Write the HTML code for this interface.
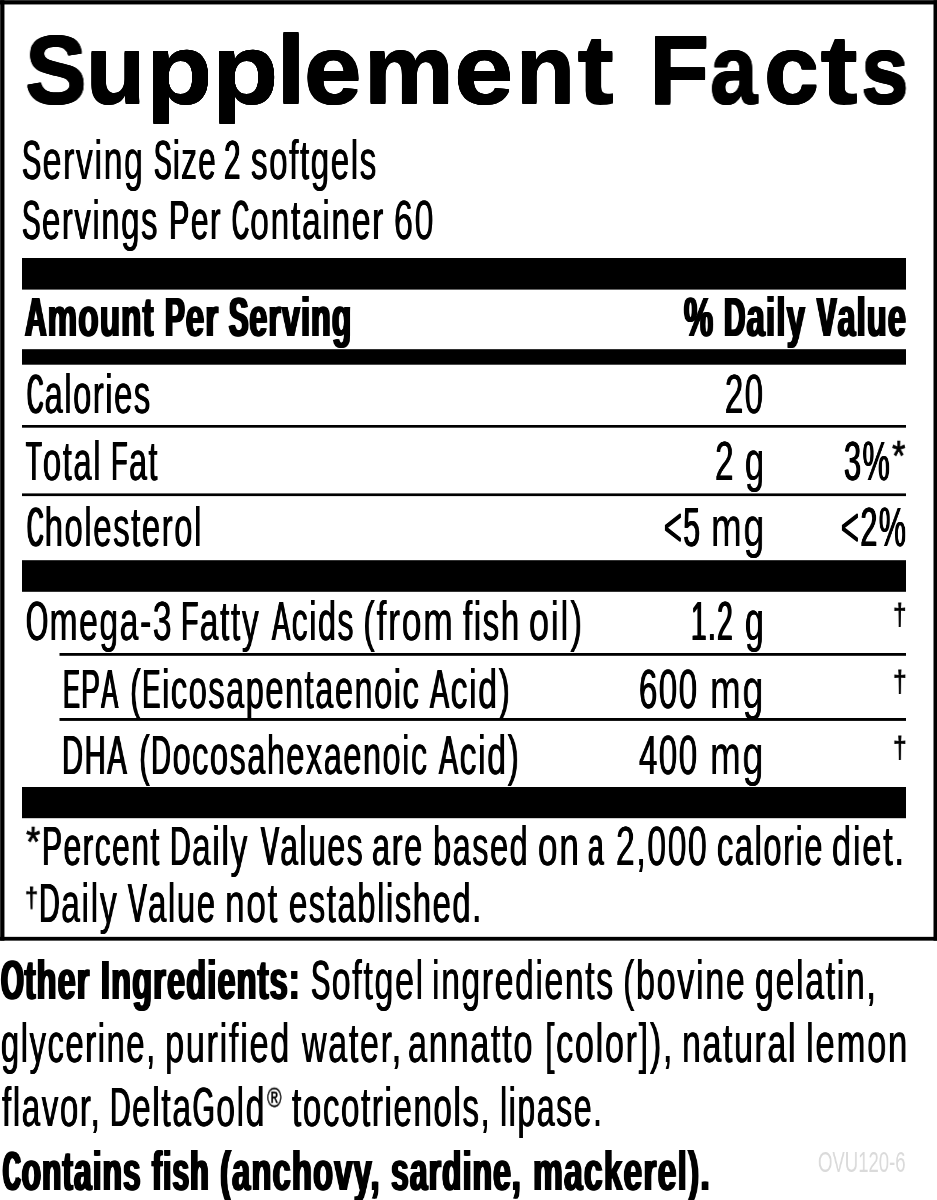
<!DOCTYPE html>
<html lang="en"><head><meta charset="utf-8"><title>Supplement Facts</title>
<style>
html,body{margin:0;padding:0;background:#fff;}
body{width:937px;height:1200px;position:relative;overflow:hidden;font-family:"Liberation Sans",sans-serif;color:#000;}
svg#g{position:absolute;left:0;top:0;}
.l{position:absolute;left:0;width:937px;margin:0;white-space:nowrap;}
.l span,.x{position:absolute;top:0;white-space:nowrap;transform-origin:0 0;display:block;will-change:transform;}
.x{margin:0;padding:0;}
.l i{display:inline-block;font-style:normal;transform-origin:0 0;}
#ti{top:22.10px;height:96.6px;font-size:96.6px;line-height:96.6px;font-weight:700;}
#ti0{left:24.80px;transform:scaleX(0.9583);text-shadow:0.60px 0 0 #000,-0.60px 0 0 #000,0 0.6px 0 #000,0 -0.6px 0 #000,0.60px 0.6px 0 #000,-0.60px 0.6px 0 #000,0.60px -0.6px 0 #000,-0.60px -0.6px 0 #000}
#ti1{left:86.43px;transform:scaleX(1.0027);text-shadow:0.60px 0 0 #000,-0.60px 0 0 #000,0 0.6px 0 #000,0 -0.6px 0 #000,0.60px 0.6px 0 #000,-0.60px 0.6px 0 #000,0.60px -0.6px 0 #000,-0.60px -0.6px 0 #000}
#ti2{left:146.16px;transform:scaleX(1.1271);text-shadow:0.06px 0 0 #000,-0.06px 0 0 #000,0 0.6px 0 #000,0 -0.6px 0 #000,0.06px 0.6px 0 #000,-0.06px 0.6px 0 #000,0.06px -0.6px 0 #000,-0.06px -0.6px 0 #000}
#ti3{left:212.46px;transform:scaleX(1.1276);text-shadow:0.06px 0 0 #000,-0.06px 0 0 #000,0 0.6px 0 #000,0 -0.6px 0 #000,0.06px 0.6px 0 #000,-0.06px 0.6px 0 #000,0.06px -0.6px 0 #000,-0.06px -0.6px 0 #000}
#ti4{left:276.73px;transform:scaleX(1.0447);text-shadow:0.60px 0 0 #000,-0.60px 0 0 #000,0 0.6px 0 #000,0 -0.6px 0 #000,0.60px 0.6px 0 #000,-0.60px 0.6px 0 #000,0.60px -0.6px 0 #000,-0.60px -0.6px 0 #000}
#ti5{left:304.09px;transform:scaleX(1.0712);text-shadow:0.42px 0 0 #000,-0.42px 0 0 #000,0 0.6px 0 #000,0 -0.6px 0 #000,0.42px 0.6px 0 #000,-0.42px 0.6px 0 #000,0.42px -0.6px 0 #000,-0.42px -0.6px 0 #000}
#ti6{left:363.78px;transform:scaleX(1.0462);text-shadow:0.59px 0 0 #000,-0.59px 0 0 #000,0 0.6px 0 #000,0 -0.6px 0 #000,0.59px 0.6px 0 #000,-0.59px 0.6px 0 #000,0.59px -0.6px 0 #000,-0.59px -0.6px 0 #000}
#ti7{left:453.55px;transform:scaleX(1.1066);text-shadow:0.19px 0 0 #000,-0.19px 0 0 #000,0 0.6px 0 #000,0 -0.6px 0 #000,0.19px 0.6px 0 #000,-0.19px 0.6px 0 #000,0.19px -0.6px 0 #000,-0.19px -0.6px 0 #000}
#ti8{left:515.67px;transform:scaleX(0.9945);text-shadow:0.60px 0 0 #000,-0.60px 0 0 #000,0 0.6px 0 #000,0 -0.6px 0 #000,0.60px 0.6px 0 #000,-0.60px 0.6px 0 #000,0.60px -0.6px 0 #000,-0.60px -0.6px 0 #000}
#ti9{left:577.05px;transform:scaleX(1.1596);text-shadow:0 0.6px 0 #000,0 -0.6px 0 #000}
#ti10{left:648.67px;transform:scaleX(1.0215);text-shadow:0.60px 0 0 #000,-0.60px 0 0 #000,0 0.6px 0 #000,0 -0.6px 0 #000,0.60px 0.6px 0 #000,-0.60px 0.6px 0 #000,0.60px -0.6px 0 #000,-0.60px -0.6px 0 #000}
#ti11{left:709.71px;transform:scaleX(0.8841);text-shadow:0.60px 0 0 #000,-0.60px 0 0 #000,0 0.6px 0 #000,0 -0.6px 0 #000,0.60px 0.6px 0 #000,-0.60px 0.6px 0 #000,0.60px -0.6px 0 #000,-0.60px -0.6px 0 #000}
#ti12{left:763.98px;transform:scaleX(1.0246);text-shadow:0.60px 0 0 #000,-0.60px 0 0 #000,0 0.6px 0 #000,0 -0.6px 0 #000,0.60px 0.6px 0 #000,-0.60px 0.6px 0 #000,0.60px -0.6px 0 #000,-0.60px -0.6px 0 #000}
#ti13{left:820.49px;transform:scaleX(1.1879);text-shadow:0 0.6px 0 #000,0 -0.6px 0 #000}
#ti14{left:860.61px;transform:scaleX(0.8886);text-shadow:0.60px 0 0 #000,-0.60px 0 0 #000,0 0.6px 0 #000,0 -0.6px 0 #000,0.60px 0.6px 0 #000,-0.60px 0.6px 0 #000,0.60px -0.6px 0 #000,-0.60px -0.6px 0 #000}
#sa{top:131.80px;height:56.0px;font-size:56.0px;line-height:56.0px;font-weight:400;letter-spacing:0.05em;}
#sa0{left:22.04px;transform:scaleX(0.6022);text-shadow:0.57px 0 0 #000,-0.57px 0 0 #000}
#sa0 .rS{text-shadow:1.11px 0 0 #000,-1.11px 0 0 #000}
#sa1{left:153.71px;transform:scaleX(0.5532);text-shadow:0.84px 0 0 #000,-0.84px 0 0 #000}
#sa1 .rS{text-shadow:1.43px 0 0 #000,-1.43px 0 0 #000}
#sa2{left:224.46px;transform:scaleX(0.5287);text-shadow:1.00px 0 0 #000,-1.00px 0 0 #000}
#sa3{left:251.21px;transform:scaleX(0.5891);text-shadow:0.64px 0 0 #000,-0.64px 0 0 #000}
#sb{top:191.70px;height:56.0px;font-size:56.0px;line-height:56.0px;font-weight:400;letter-spacing:0.05em;}
#sb0{left:22.05px;transform:scaleX(0.5852);text-shadow:0.66px 0 0 #000,-0.66px 0 0 #000}
#sb0 .rS{text-shadow:1.22px 0 0 #000,-1.22px 0 0 #000}
#sb1{left:169.23px;transform:scaleX(0.5684);text-shadow:0.75px 0 0 #000,-0.75px 0 0 #000}
#sb1 .rP{text-shadow:0.93px 0 0 #000,-0.93px 0 0 #000}
#sb2{left:232.08px;transform:scaleX(0.6001);text-shadow:0.58px 0 0 #000,-0.58px 0 0 #000}
#sb2 .rC{text-shadow:1.90px 0 0 #000,-1.90px 0 0 #000}
#sb3{left:393.63px;transform:scaleX(0.6055);text-shadow:0.56px 0 0 #000,-0.56px 0 0 #000}
#ap{top:289.20px;height:56.0px;font-size:56.0px;line-height:56.0px;font-weight:700;letter-spacing:0.035em;}
#ap0{left:25.01px;transform:scaleX(0.5926);text-shadow:1.62px 0 0 #000,-1.62px 0 0 #000}
#ap0 .bA{text-shadow:2.24px 0 0 #000,-2.24px 0 0 #000}
#ap1{left:165.29px;transform:scaleX(0.5886);text-shadow:1.66px 0 0 #000,-1.66px 0 0 #000}
#ap1 .bP{text-shadow:2.28px 0 0 #000,-2.28px 0 0 #000}
#ap2{left:229.09px;transform:scaleX(0.5744);text-shadow:1.80px 0 0 #000,-1.80px 0 0 #000}
#ap2 .bS{text-shadow:2.43px 0 0 #000,-2.43px 0 0 #000}
#dv{top:289.20px;height:56.0px;font-size:56.0px;line-height:56.0px;font-weight:700;letter-spacing:0.035em;}
#dv0{left:684.22px;transform:scaleX(0.5851);text-shadow:1.69px 0 0 #000,-1.69px 0 0 #000}
#dv1{left:724.16px;transform:scaleX(0.5889);text-shadow:1.65px 0 0 #000,-1.65px 0 0 #000}
#dv1 .bD{text-shadow:2.28px 0 0 #000,-2.28px 0 0 #000}
#dv2{left:817.29px;transform:scaleX(0.5796);text-shadow:1.74px 0 0 #000,-1.74px 0 0 #000}
#dv2 .bV{text-shadow:2.38px 0 0 #000,-2.38px 0 0 #000}
#ca{top:365.50px;height:56.0px;font-size:56.0px;line-height:56.0px;font-weight:400;letter-spacing:0.05em;}
#ca0{left:26.55px;transform:scaleX(0.5807);text-shadow:0.69px 0 0 #000,-0.69px 0 0 #000}
#ca0 .rC{text-shadow:2.05px 0 0 #000,-2.05px 0 0 #000}
#ca1{left:725.45px;transform:scaleX(0.5832);text-shadow:0.67px 0 0 #000,-0.67px 0 0 #000}
#tf{top:432.50px;height:56.0px;font-size:56.0px;line-height:56.0px;font-weight:400;letter-spacing:0.05em;}
#tf0{left:25.99px;transform:scaleX(0.5842);text-shadow:0.67px 0 0 #000,-0.67px 0 0 #000}
#tf0 .rT{text-shadow:1.56px 0 0 #000,-1.56px 0 0 #000}
#tf1{left:111.07px;transform:scaleX(0.5726);text-shadow:0.73px 0 0 #000,-0.73px 0 0 #000}
#tf1 .rF{text-shadow:1.30px 0 0 #000,-1.30px 0 0 #000}
#tf2{left:715.43px;transform:scaleX(0.5961);text-shadow:0.60px 0 0 #000,-0.60px 0 0 #000}
#tf3{left:744.73px;transform:scaleX(0.6138);text-shadow:0.51px 0 0 #000,-0.51px 0 0 #000}
#tf4{left:843.81px;transform:scaleX(0.5465);text-shadow:0.89px 0 0 #000,-0.89px 0 0 #000}
#ch{top:499.00px;height:56.0px;font-size:56.0px;line-height:56.0px;font-weight:400;letter-spacing:0.05em;}
#ch0{left:26.55px;transform:scaleX(0.5846);text-shadow:0.66px 0 0 #000,-0.66px 0 0 #000}
#ch0 .rC{text-shadow:2.02px 0 0 #000,-2.02px 0 0 #000}
#ch1{left:663.50px;transform:scaleX(0.5404);text-shadow:0.92px 0 0 #000,-0.92px 0 0 #000}
#ch2{left:710.87px;transform:scaleX(0.6589);text-shadow:0.31px 0 0 #000,-0.31px 0 0 #000}
#ch3{left:841.18px;transform:scaleX(0.5449);text-shadow:0.90px 0 0 #000,-0.90px 0 0 #000}
#om{top:593.10px;height:56.0px;font-size:56.0px;line-height:56.0px;font-weight:400;letter-spacing:0.05em;}
#om0{left:25.78px;transform:scaleX(0.5980);text-shadow:0.59px 0 0 #000,-0.59px 0 0 #000}
#om0 .rO{text-shadow:1.14px 0 0 #000,-1.14px 0 0 #000}
#om1{left:181.17px;transform:scaleX(0.5968);text-shadow:0.60px 0 0 #000,-0.60px 0 0 #000}
#om1 .rF{text-shadow:1.15px 0 0 #000,-1.15px 0 0 #000}
#om2{left:271.56px;transform:scaleX(0.5737);text-shadow:0.72px 0 0 #000,-0.72px 0 0 #000}
#om2 .rA{text-shadow:1.29px 0 0 #000,-1.29px 0 0 #000}
#om3{left:362.96px;transform:scaleX(0.6318);text-shadow:0.43px 0 0 #000,-0.43px 0 0 #000}
#om4{left:463.39px;transform:scaleX(0.5877);text-shadow:0.65px 0 0 #000,-0.65px 0 0 #000}
#om5{left:528.96px;transform:scaleX(0.6409);text-shadow:0.39px 0 0 #000,-0.39px 0 0 #000}
#om6{left:690.93px;transform:scaleX(0.4999);text-shadow:1.20px 0 0 #000,-1.20px 0 0 #000}
#om7{left:744.56px;transform:scaleX(0.5997);text-shadow:0.59px 0 0 #000,-0.59px 0 0 #000}
#ep{top:660.50px;height:56.0px;font-size:56.0px;line-height:56.0px;font-weight:400;letter-spacing:0.05em;}
#ep0{left:62.59px;transform:scaleX(0.5312);text-shadow:0.98px 0 0 #000,-0.98px 0 0 #000}
#ep0 .rA,#ep0 .rE{text-shadow:1.60px 0 0 #000,-1.60px 0 0 #000}
#ep0 .rP{text-shadow:1.17px 0 0 #000,-1.17px 0 0 #000}
#ep1{left:130.14px;transform:scaleX(0.5781);text-shadow:0.70px 0 0 #000,-0.70px 0 0 #000}
#ep1 .rE{text-shadow:1.27px 0 0 #000,-1.27px 0 0 #000}
#ep2{left:429.78px;transform:scaleX(0.6020);text-shadow:0.57px 0 0 #000,-0.57px 0 0 #000}
#ep2 .rA{text-shadow:1.12px 0 0 #000,-1.12px 0 0 #000}
#ep3{left:639.15px;transform:scaleX(0.5854);text-shadow:0.66px 0 0 #000,-0.66px 0 0 #000}
#ep4{left:710.46px;transform:scaleX(0.6591);text-shadow:0.31px 0 0 #000,-0.31px 0 0 #000}
#dh{top:727.00px;height:56.0px;font-size:56.0px;line-height:56.0px;font-weight:400;letter-spacing:0.05em;}
#dh0{left:62.26px;transform:scaleX(0.6122);text-shadow:0.52px 0 0 #000,-0.52px 0 0 #000}
#dh0 .rA,#dh0 .rD,#dh0 .rH{text-shadow:1.06px 0 0 #000,-1.06px 0 0 #000}
#dh1{left:139.00px;transform:scaleX(0.5769);text-shadow:0.71px 0 0 #000,-0.71px 0 0 #000}
#dh1 .rD{text-shadow:1.27px 0 0 #000,-1.27px 0 0 #000}
#dh2{left:438.87px;transform:scaleX(0.6019);text-shadow:0.57px 0 0 #000,-0.57px 0 0 #000}
#dh2 .rA{text-shadow:1.12px 0 0 #000,-1.12px 0 0 #000}
#dh3{left:639.12px;transform:scaleX(0.5863);text-shadow:0.66px 0 0 #000,-0.66px 0 0 #000}
#dh4{left:710.46px;transform:scaleX(0.6591);text-shadow:0.31px 0 0 #000,-0.31px 0 0 #000}
#fa{top:817.90px;height:56.0px;font-size:56.0px;line-height:56.0px;font-weight:400;letter-spacing:0.05em;}
#fa0{left:41.55px;transform:scaleX(0.5643);text-shadow:0.78px 0 0 #000,-0.78px 0 0 #000}
#fa0 .rP{text-shadow:0.95px 0 0 #000,-0.95px 0 0 #000}
#fa1{left:170.34px;transform:scaleX(0.5988);text-shadow:0.59px 0 0 #000,-0.59px 0 0 #000}
#fa1 .rD{text-shadow:1.13px 0 0 #000,-1.13px 0 0 #000}
#fa2{left:261.20px;transform:scaleX(0.5666);text-shadow:0.76px 0 0 #000,-0.76px 0 0 #000}
#fa2 .rV{text-shadow:1.34px 0 0 #000,-1.34px 0 0 #000}
#fa3{left:372.37px;transform:scaleX(0.5799);text-shadow:0.69px 0 0 #000,-0.69px 0 0 #000}
#fa4{left:433.25px;transform:scaleX(0.5777);text-shadow:0.70px 0 0 #000,-0.70px 0 0 #000}
#fa5{left:537.67px;transform:scaleX(0.6283);text-shadow:0.44px 0 0 #000,-0.44px 0 0 #000}
#fa6{left:587.95px;transform:scaleX(0.5018);text-shadow:1.19px 0 0 #000,-1.19px 0 0 #000}
#fa7{left:615.73px;transform:scaleX(0.5995);text-shadow:0.59px 0 0 #000,-0.59px 0 0 #000}
#fa8{left:717.25px;transform:scaleX(0.5800);text-shadow:0.69px 0 0 #000,-0.69px 0 0 #000}
#fa9{left:832.33px;transform:scaleX(0.6153);text-shadow:0.51px 0 0 #000,-0.51px 0 0 #000}
#fb{top:875.10px;height:56.0px;font-size:56.0px;line-height:56.0px;font-weight:400;letter-spacing:0.05em;}
#fb0{left:39.04px;transform:scaleX(0.6020);text-shadow:0.57px 0 0 #000,-0.57px 0 0 #000}
#fb0 .rD{text-shadow:1.12px 0 0 #000,-1.12px 0 0 #000}
#fb1{left:128.32px;transform:scaleX(0.5864);text-shadow:0.65px 0 0 #000,-0.65px 0 0 #000}
#fb1 .rV{text-shadow:1.21px 0 0 #000,-1.21px 0 0 #000}
#fb2{left:224.57px;transform:scaleX(0.6277);text-shadow:0.45px 0 0 #000,-0.45px 0 0 #000}
#fb3{left:288.69px;transform:scaleX(0.5832);text-shadow:0.67px 0 0 #000,-0.67px 0 0 #000}
#oi{top:952.20px;height:56.0px;font-size:56.0px;line-height:56.0px;font-weight:700;letter-spacing:0.035em;}
#oi0{left:1.29px;transform:scaleX(0.5792);text-shadow:1.75px 0 0 #000,-1.75px 0 0 #000}
#oi0 .bO{text-shadow:2.38px 0 0 #000,-2.38px 0 0 #000}
#oi1{left:101.06px;transform:scaleX(0.5808);text-shadow:1.73px 0 0 #000,-1.73px 0 0 #000}
#oa{top:952.20px;height:56.0px;font-size:56.0px;line-height:56.0px;font-weight:400;letter-spacing:0.05em;}
#oa0{left:310.64px;transform:scaleX(0.6056);text-shadow:0.55px 0 0 #000,-0.55px 0 0 #000}
#oa0 .rS{text-shadow:1.09px 0 0 #000,-1.09px 0 0 #000}
#oa1{left:432.28px;transform:scaleX(0.5996);text-shadow:0.59px 0 0 #000,-0.59px 0 0 #000}
#oa2{left:622.64px;transform:scaleX(0.6076);text-shadow:0.54px 0 0 #000,-0.54px 0 0 #000}
#oa3{left:754.95px;transform:scaleX(0.6037);text-shadow:0.56px 0 0 #000,-0.56px 0 0 #000}
#ob{top:1015.30px;height:56.0px;font-size:56.0px;line-height:56.0px;font-weight:400;letter-spacing:0.05em;}
#ob0{left:0.68px;transform:scaleX(0.5820);text-shadow:0.68px 0 0 #000,-0.68px 0 0 #000}
#ob1{left:164.73px;transform:scaleX(0.6115);text-shadow:0.53px 0 0 #000,-0.53px 0 0 #000}
#ob2{left:302.13px;transform:scaleX(0.6068);text-shadow:0.55px 0 0 #000,-0.55px 0 0 #000}
#ob3{left:408.27px;transform:scaleX(0.6111);text-shadow:0.53px 0 0 #000,-0.53px 0 0 #000}
#ob4{left:545.13px;transform:scaleX(0.6094);text-shadow:0.54px 0 0 #000,-0.54px 0 0 #000}
#ob5{left:681.96px;transform:scaleX(0.6034);text-shadow:0.57px 0 0 #000,-0.57px 0 0 #000}
#ob6{left:805.70px;transform:scaleX(0.6190);text-shadow:0.49px 0 0 #000,-0.49px 0 0 #000}
#oc{top:1079.40px;height:56.0px;font-size:56.0px;line-height:56.0px;font-weight:400;letter-spacing:0.05em;}
#oc0{left:1.78px;transform:scaleX(0.5884);text-shadow:0.64px 0 0 #000,-0.64px 0 0 #000}
#oc1{left:109.64px;transform:scaleX(0.5982);text-shadow:0.59px 0 0 #000,-0.59px 0 0 #000}
#oc1 .rD,#oc1 .rG{text-shadow:1.14px 0 0 #000,-1.14px 0 0 #000}
#oc2{left:292.22px;transform:scaleX(0.5894);text-shadow:0.64px 0 0 #000,-0.64px 0 0 #000}
#oc3{left:499.52px;transform:scaleX(0.5706);text-shadow:0.74px 0 0 #000,-0.74px 0 0 #000}
#cf{top:1142.50px;height:56.0px;font-size:56.0px;line-height:56.0px;font-weight:700;letter-spacing:0.035em;}
#cf0{left:2.57px;transform:scaleX(0.5636);text-shadow:1.90px 0 0 #000,-1.90px 0 0 #000}
#cf0 .bC{text-shadow:3.00px 0 0 #000,-3.00px 0 0 #000}
#cf1{left:151.54px;transform:scaleX(0.5359);text-shadow:2.21px 0 0 #000,-2.21px 0 0 #000}
#cf2{left:220.37px;transform:scaleX(0.5847);text-shadow:1.69px 0 0 #000,-1.69px 0 0 #000}
#cf3{left:391.29px;transform:scaleX(0.5679);text-shadow:1.86px 0 0 #000,-1.86px 0 0 #000}
#cf4{left:532.59px;transform:scaleX(0.5997);text-shadow:1.55px 0 0 #000,-1.55px 0 0 #000}
#cd{top:1147.15px;height:30.3px;font-size:30.3px;line-height:30.3px;font-weight:400;color:#dadada;}
#cd0{left:818.25px;transform:scaleX(0.6119)}
#ast1{left:892.15px;top:433.72px;font-size:40px;line-height:40px;transform:scale(0.8626,1.0619);-webkit-text-stroke:0.7px #000}
#dg1{left:893.36px;top:599.77px;font-size:30px;line-height:30px;transform:scale(0.8017,1.0038);-webkit-text-stroke:0.9px #000}
#dg2{left:892.92px;top:667.05px;font-size:30px;line-height:30px;transform:scale(0.8186,1.0046);-webkit-text-stroke:0.9px #000}
#dg3{left:892.92px;top:733.43px;font-size:30px;line-height:30px;transform:scale(0.8189,1.0004);-webkit-text-stroke:0.9px #000}
#ast2{left:26.26px;top:819.74px;font-size:40px;line-height:40px;transform:scale(0.9164,1.0448);-webkit-text-stroke:0.7px #000}
#dg4{left:25.40px;top:883.80px;font-size:28px;line-height:28px;transform:scale(0.8350,0.9877);-webkit-text-stroke:0.9px #000}
#reg{left:266.89px;top:1084.35px;font-size:24px;line-height:24px;transform:scale(0.8249,1.1377);-webkit-text-stroke:0.4px #000}
.rA{width:34.13px;transform:scaleX(0.85)}
.rC{width:30.27px;transform:scaleX(0.7)}
.rD{width:36.76px;transform:scaleX(0.85)}
.rE{width:34.13px;transform:scaleX(0.85)}
.rF{width:31.46px;transform:scaleX(0.85)}
.rG{width:39.40px;transform:scaleX(0.85)}
.rH{width:36.76px;transform:scaleX(0.85)}
.rO{width:39.40px;transform:scaleX(0.85)}
.rP{width:38.14px;transform:scaleX(0.95)}
.rS{width:34.13px;transform:scaleX(0.85)}
.rT{width:28.87px;transform:scaleX(0.78)}
.rV{width:34.13px;transform:scaleX(0.85)}
.bA{width:38.16px;transform:scaleX(0.9)}
.bC{width:33.07px;transform:scaleX(0.78)}
.bD{width:38.16px;transform:scaleX(0.9)}
.bO{width:40.97px;transform:scaleX(0.9)}
.bP{width:35.38px;transform:scaleX(0.9)}
.bS{width:35.38px;transform:scaleX(0.9)}
.bV{width:35.38px;transform:scaleX(0.9)}

</style></head><body>
<svg id="g" width="937" height="1200" viewBox="0 0 937 1200" fill="#000"><rect x="0" y="0.2" width="937" height="4.25"/><rect x="0.2" y="0.2" width="4.25" height="940.45"/><rect x="933.5" y="0.2" width="3.5" height="940.45"/><rect x="0" y="936.85" width="937" height="3.8"/><rect x="22" y="258" width="884" height="31.6"/><rect x="22" y="349.2" width="884" height="15.5"/><rect x="22" y="425" width="884" height="2.7"/><rect x="22" y="493.4" width="884" height="2.7"/><rect x="22" y="560.2" width="884" height="31.6"/><rect x="59.5" y="653" width="846.5" height="2.8"/><rect x="59.5" y="718" width="846.5" height="2.9"/><rect x="22" y="787" width="884" height="31.2"/></svg>
<div class="l" id="ti"><span id="ti0">S</span><span id="ti1">u</span><span id="ti2">p</span><span id="ti3">p</span><span id="ti4">l</span><span id="ti5">e</span><span id="ti6">m</span><span id="ti7">e</span><span id="ti8">n</span><span id="ti9">t</span> <span id="ti10">F</span><span id="ti11">a</span><span id="ti12">c</span><span id="ti13">t</span><span id="ti14">s</span></div>
<div class="l" id="sa"><span id="sa0"><i class="rS">S</i>erving</span> <span id="sa1"><i class="rS">S</i>ize</span> <span id="sa2">2</span> <span id="sa3">softgels</span></div>
<div class="l" id="sb"><span id="sb0"><i class="rS">S</i>ervings</span> <span id="sb1"><i class="rP">P</i>er</span> <span id="sb2"><i class="rC">C</i>ontainer</span> <span id="sb3">60</span></div>
<div class="l" id="ap"><span id="ap0"><i class="bA">A</i>mount</span> <span id="ap1"><i class="bP">P</i>er</span> <span id="ap2"><i class="bS">S</i>erving</span></div>
<div class="l" id="dv"><span id="dv0">%</span> <span id="dv1"><i class="bD">D</i>aily</span> <span id="dv2"><i class="bV">V</i>alue</span></div>
<div class="l" id="ca"><span id="ca0"><i class="rC">C</i>alories</span> <span id="ca1">20</span></div>
<div class="l" id="tf"><span id="tf0"><i class="rT">T</i>otal</span> <span id="tf1"><i class="rF">F</i>at</span> <span id="tf2">2</span> <span id="tf3">g</span> <span id="tf4">3%</span></div>
<div class="l" id="ch"><span id="ch0"><i class="rC">C</i>holesterol</span> <span id="ch1">&lt;5</span> <span id="ch2">mg</span> <span id="ch3">&lt;2%</span></div>
<div class="l" id="om"><span id="om0"><i class="rO">O</i>mega-3</span> <span id="om1"><i class="rF">F</i>atty</span> <span id="om2"><i class="rA">A</i>cids</span> <span id="om3">(from</span> <span id="om4">fish</span> <span id="om5">oil)</span> <span id="om6">1.2</span> <span id="om7">g</span></div>
<div class="l" id="ep"><span id="ep0"><i class="rE">E</i><i class="rP">P</i><i class="rA">A</i></span> <span id="ep1">(<i class="rE">E</i>icosapentaenoic</span> <span id="ep2"><i class="rA">A</i>cid)</span> <span id="ep3">600</span> <span id="ep4">mg</span></div>
<div class="l" id="dh"><span id="dh0"><i class="rD">D</i><i class="rH">H</i><i class="rA">A</i></span> <span id="dh1">(<i class="rD">D</i>ocosahexaenoic</span> <span id="dh2"><i class="rA">A</i>cid)</span> <span id="dh3">400</span> <span id="dh4">mg</span></div>
<div class="l" id="fa"><span id="fa0"><i class="rP">P</i>ercent</span> <span id="fa1"><i class="rD">D</i>aily</span> <span id="fa2"><i class="rV">V</i>alues</span> <span id="fa3">are</span> <span id="fa4">based</span> <span id="fa5">on</span> <span id="fa6">a</span> <span id="fa7">2,000</span> <span id="fa8">calorie</span> <span id="fa9">diet.</span></div>
<div class="l" id="fb"><span id="fb0"><i class="rD">D</i>aily</span> <span id="fb1"><i class="rV">V</i>alue</span> <span id="fb2">not</span> <span id="fb3">established.</span></div>
<div class="l" id="oi"><span id="oi0"><i class="bO">O</i>ther</span> <span id="oi1">Ingredients:</span></div>
<div class="l" id="oa"><span id="oa0"><i class="rS">S</i>oftgel</span> <span id="oa1">ingredients</span> <span id="oa2">(bovine</span> <span id="oa3">gelatin,</span></div>
<div class="l" id="ob"><span id="ob0">glycerine,</span> <span id="ob1">purified</span> <span id="ob2">water,</span> <span id="ob3">annatto</span> <span id="ob4">[color]),</span> <span id="ob5">natural</span> <span id="ob6">lemon</span></div>
<div class="l" id="oc"><span id="oc0">flavor,</span> <span id="oc1"><i class="rD">D</i>elta<i class="rG">G</i>old</span> <span id="oc2">tocotrienols,</span> <span id="oc3">lipase.</span></div>
<div class="l" id="cf"><span id="cf0"><i class="bC">C</i>ontains</span> <span id="cf1">fish</span> <span id="cf2">(anchovy,</span> <span id="cf3">sardine,</span> <span id="cf4">mackerel).</span></div>
<div class="l" id="cd"><span id="cd0">OVU120-6</span></div>
<div class="x" id="ast1">*</div>
<div class="x" id="dg1">†</div>
<div class="x" id="dg2">†</div>
<div class="x" id="dg3">†</div>
<div class="x" id="ast2">*</div>
<div class="x" id="dg4">†</div>
<div class="x" id="reg">®</div>
</body></html>
